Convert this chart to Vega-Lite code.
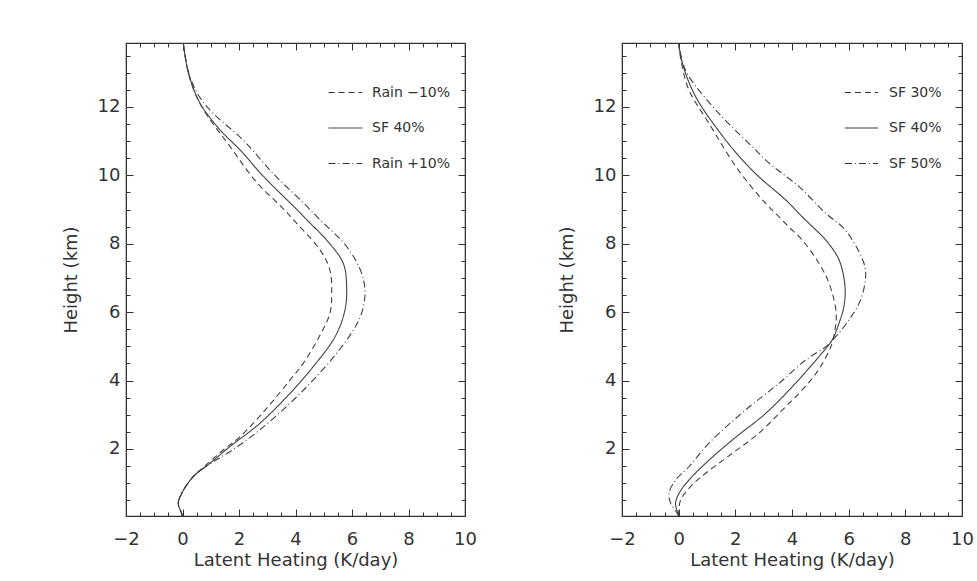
{
  "$schema": "https://vega.github.io/schema/vega-lite/v6.json",
  "background": "white",
  "padding": {"left": 61, "top": 40, "right": 0, "bottom": 0},
  "spacing": 79,
  "config": {
    "view": {"stroke": "#333", "strokeWidth": 1.2},
    "axis": {
      "grid": false,
      "domainColor": "#333",
      "tickColor": "#333",
      "labelColor": "#333",
      "titleColor": "#333",
      "labelFont": "DejaVu Sans",
      "titleFont": "DejaVu Sans",
      "labelFontSize": 18,
      "titleFontSize": 18,
      "titleFontWeight": "normal",
      "labelFlush": false,
      "labelOverlap": false
    },
    "legend": {
      "labelFont": "DejaVu Sans",
      "labelFontSize": 14,
      "labelColor": "#333"
    }
  },
  "datasets": {
    "left": [
      {"series": "SF 40%", "height": 0.04, "heating": 0},
      {"series": "SF 40%", "height": 0.12, "heating": -0.03},
      {"series": "SF 40%", "height": 0.41, "heating": -0.15},
      {"series": "SF 40%", "height": 0.7, "heating": -0.03},
      {"series": "SF 40%", "height": 1.19, "heating": 0.38},
      {"series": "SF 40%", "height": 1.58, "heating": 0.97},
      {"series": "SF 40%", "height": 2.07, "heating": 1.68},
      {"series": "SF 40%", "height": 2.75, "heating": 2.74},
      {"series": "SF 40%", "height": 3.63, "heating": 3.81},
      {"series": "SF 40%", "height": 4.41, "heating": 4.63},
      {"series": "SF 40%", "height": 5.28, "heating": 5.4},
      {"series": "SF 40%", "height": 6.06, "heating": 5.75},
      {"series": "SF 40%", "height": 6.75, "heating": 5.81},
      {"series": "SF 40%", "height": 7.43, "heating": 5.69},
      {"series": "SF 40%", "height": 8.11, "heating": 5.1},
      {"series": "SF 40%", "height": 8.7, "heating": 4.4},
      {"series": "SF 40%", "height": 9.0, "heating": 4.05},
      {"series": "SF 40%", "height": 9.94, "heating": 2.9},
      {"series": "SF 40%", "height": 10.74, "heating": 2.04},
      {"series": "SF 40%", "height": 11.33, "heating": 1.33},
      {"series": "SF 40%", "height": 12.11, "heating": 0.62},
      {"series": "SF 40%", "height": 12.99, "heating": 0.21},
      {"series": "SF 40%", "height": 13.86, "heating": 0.03},

      {"series": "Rain −10%", "height": 0.04, "heating": 0},
      {"series": "Rain −10%", "height": 0.12, "heating": -0.03},
      {"series": "Rain −10%", "height": 0.41, "heating": -0.15},
      {"series": "Rain −10%", "height": 0.7, "heating": -0.03},
      {"series": "Rain −10%", "height": 1.19, "heating": 0.38},
      {"series": "Rain −10%", "height": 1.63, "heating": 0.97},
      {"series": "Rain −10%", "height": 1.97, "heating": 1.44},
      {"series": "Rain −10%", "height": 2.36, "heating": 2.04},
      {"series": "Rain −10%", "height": 3.19, "heating": 2.98},
      {"series": "Rain −10%", "height": 4.02, "heating": 3.81},
      {"series": "Rain −10%", "height": 4.51, "heating": 4.28},
      {"series": "Rain −10%", "height": 5.33, "heating": 4.87},
      {"series": "Rain −10%", "height": 5.97, "heating": 5.22},
      {"series": "Rain −10%", "height": 6.55, "heating": 5.28},
      {"series": "Rain −10%", "height": 7.23, "heating": 5.22},
      {"series": "Rain −10%", "height": 7.82, "heating": 4.87},
      {"series": "Rain −10%", "height": 8.6, "heating": 4.04},
      {"series": "Rain −10%", "height": 9.08, "heating": 3.5},
      {"series": "Rain −10%", "height": 9.8, "heating": 2.62},
      {"series": "Rain −10%", "height": 10.94, "heating": 1.6},
      {"series": "Rain −10%", "height": 11.72, "heating": 0.9},
      {"series": "Rain −10%", "height": 12.3, "heating": 0.5},
      {"series": "Rain −10%", "height": 12.99, "heating": 0.21},
      {"series": "Rain −10%", "height": 13.86, "heating": 0.03},

      {"series": "Rain +10%", "height": 0.04, "heating": 0},
      {"series": "Rain +10%", "height": 0.12, "heating": -0.03},
      {"series": "Rain +10%", "height": 0.41, "heating": -0.15},
      {"series": "Rain +10%", "height": 0.7, "heating": -0.03},
      {"series": "Rain +10%", "height": 1.19, "heating": 0.38},
      {"series": "Rain +10%", "height": 1.63, "heating": 1.09},
      {"series": "Rain +10%", "height": 1.92, "heating": 1.68},
      {"series": "Rain +10%", "height": 2.56, "heating": 2.74},
      {"series": "Rain +10%", "height": 3.34, "heating": 3.81},
      {"series": "Rain +10%", "height": 4.02, "heating": 4.63},
      {"series": "Rain +10%", "height": 4.8, "heating": 5.46},
      {"series": "Rain +10%", "height": 5.48, "heating": 6.05},
      {"series": "Rain +10%", "height": 5.97, "heating": 6.34},
      {"series": "Rain +10%", "height": 6.55, "heating": 6.46},
      {"series": "Rain +10%", "height": 7.14, "heating": 6.34},
      {"series": "Rain +10%", "height": 7.92, "heating": 5.81},
      {"series": "Rain +10%", "height": 8.7, "heating": 4.87},
      {"series": "Rain +10%", "height": 9.18, "heating": 4.3},
      {"series": "Rain +10%", "height": 10.06, "heating": 3.2},
      {"series": "Rain +10%", "height": 11.03, "heating": 2.15},
      {"series": "Rain +10%", "height": 11.81, "heating": 1.09},
      {"series": "Rain +10%", "height": 12.3, "heating": 0.6},
      {"series": "Rain +10%", "height": 12.99, "heating": 0.22},
      {"series": "Rain +10%", "height": 13.86, "heating": 0.03}
    ],
    "right": [
      {"series": "SF 40%", "height": 0.04, "heating": 0},
      {"series": "SF 40%", "height": 0.2, "heating": -0.06},
      {"series": "SF 40%", "height": 0.41, "heating": -0.11},
      {"series": "SF 40%", "height": 0.7, "heating": 0.01},
      {"series": "SF 40%", "height": 1.09, "heating": 0.36},
      {"series": "SF 40%", "height": 1.58, "heating": 0.95},
      {"series": "SF 40%", "height": 2.26, "heating": 1.89},
      {"series": "SF 40%", "height": 3.04, "heating": 3.07},
      {"series": "SF 40%", "height": 3.82, "heating": 4.01},
      {"series": "SF 40%", "height": 4.7, "heating": 4.95},
      {"series": "SF 40%", "height": 5.19, "heating": 5.42},
      {"series": "SF 40%", "height": 5.68, "heating": 5.66},
      {"series": "SF 40%", "height": 6.16, "heating": 5.83},
      {"series": "SF 40%", "height": 6.75, "heating": 5.87},
      {"series": "SF 40%", "height": 7.53, "heating": 5.66},
      {"series": "SF 40%", "height": 8.11, "heating": 5.19},
      {"series": "SF 40%", "height": 8.5, "heating": 4.72},
      {"series": "SF 40%", "height": 8.79, "heating": 4.36},
      {"series": "SF 40%", "height": 9.28, "heating": 3.78},
      {"series": "SF 40%", "height": 9.96, "heating": 2.83},
      {"series": "SF 40%", "height": 10.45, "heating": 2.25},
      {"series": "SF 40%", "height": 11.03, "heating": 1.66},
      {"series": "SF 40%", "height": 12.3, "heating": 0.6},
      {"series": "SF 40%", "height": 13.28, "heating": 0.13},
      {"series": "SF 40%", "height": 13.86, "heating": 0},

      {"series": "SF 30%", "height": 0.04, "heating": 0},
      {"series": "SF 30%", "height": 0.12, "heating": 0},
      {"series": "SF 30%", "height": 0.51, "heating": 0.07},
      {"series": "SF 30%", "height": 0.9, "heating": 0.42},
      {"series": "SF 30%", "height": 1.29, "heating": 0.95},
      {"series": "SF 30%", "height": 1.87, "heating": 1.89},
      {"series": "SF 30%", "height": 2.46, "heating": 2.83},
      {"series": "SF 30%", "height": 3.24, "heating": 3.78},
      {"series": "SF 30%", "height": 3.63, "heating": 4.25},
      {"series": "SF 30%", "height": 4.07, "heating": 4.72},
      {"series": "SF 30%", "height": 4.41, "heating": 5.01},
      {"series": "SF 30%", "height": 4.99, "heating": 5.37},
      {"series": "SF 30%", "height": 5.4, "heating": 5.5},
      {"series": "SF 30%", "height": 5.97, "heating": 5.56},
      {"series": "SF 30%", "height": 6.84, "heating": 5.31},
      {"series": "SF 30%", "height": 7.43, "heating": 4.95},
      {"series": "SF 30%", "height": 8.11, "heating": 4.36},
      {"series": "SF 30%", "height": 8.5, "heating": 3.88},
      {"series": "SF 30%", "height": 8.89, "heating": 3.42},
      {"series": "SF 30%", "height": 9.18, "heating": 3.07},
      {"series": "SF 30%", "height": 10.16, "heating": 2.1},
      {"series": "SF 30%", "height": 11.52, "heating": 1.07},
      {"series": "SF 30%", "height": 12.5, "heating": 0.36},
      {"series": "SF 30%", "height": 13.28, "heating": 0.1},
      {"series": "SF 30%", "height": 13.86, "heating": 0},

      {"series": "SF 50%", "height": 0.04, "heating": 0},
      {"series": "SF 50%", "height": 0.12, "heating": -0.05},
      {"series": "SF 50%", "height": 0.41, "heating": -0.28},
      {"series": "SF 50%", "height": 0.7, "heating": -0.34},
      {"series": "SF 50%", "height": 1.09, "heating": -0.11},
      {"series": "SF 50%", "height": 1.48, "heating": 0.36},
      {"series": "SF 50%", "height": 2.17, "heating": 1.07},
      {"series": "SF 50%", "height": 3.14, "heating": 2.36},
      {"series": "SF 50%", "height": 3.92, "heating": 3.54},
      {"series": "SF 50%", "height": 4.6, "heating": 4.48},
      {"series": "SF 50%", "height": 4.99, "heating": 5.19},
      {"series": "SF 50%", "height": 5.28, "heating": 5.54},
      {"series": "SF 50%", "height": 5.77, "heating": 6.01},
      {"series": "SF 50%", "height": 6.36, "heating": 6.42},
      {"series": "SF 50%", "height": 7.04, "heating": 6.6},
      {"series": "SF 50%", "height": 7.43, "heating": 6.54},
      {"series": "SF 50%", "height": 8.11, "heating": 6.13},
      {"series": "SF 50%", "height": 8.5, "heating": 5.77},
      {"series": "SF 50%", "height": 8.89, "heating": 5.19},
      {"series": "SF 50%", "height": 9.67, "heating": 4.25},
      {"series": "SF 50%", "height": 10.35, "heating": 3.2},
      {"series": "SF 50%", "height": 10.74, "heating": 2.72},
      {"series": "SF 50%", "height": 11.81, "heating": 1.42},
      {"series": "SF 50%", "height": 12.89, "heating": 0.36},
      {"series": "SF 50%", "height": 13.28, "heating": 0.15},
      {"series": "SF 50%", "height": 13.86, "heating": 0}
    ]
  },
  "resolve": {
    "scale": {"strokeDash": "independent"},
    "legend": {"strokeDash": "independent"}
  },
  "hconcat": [
    {
      "width": 339,
      "height": 473,
      "data": {"name": "left"},
      "layer": [
        {
          "mark": {"type": "line", "color": "#404040", "strokeWidth": 1.1, "interpolate": "catmull-rom"},
          "encoding": {
            "x": {"field": "heating", "type": "quantitative",
              "scale": {"domain": [-2, 10], "nice": false, "zero": false},
              "axis": {"orient": "bottom", "values": [-2, 0, 2, 4, 6, 8, 10], "tickSize": -7, "labelPadding": 21,
                "title": "Latent Heating (K/day)", "titlePadding": 3}},
            "y": {"field": "height", "type": "quantitative",
              "scale": {"domain": [0.04, 13.87], "nice": false, "zero": false},
              "axis": {"orient": "left", "values": [2, 4, 6, 8, 10, 12], "tickSize": -7, "labelPadding": 13,
                "title": "Height (km)", "titlePadding": 17}},
            "order": {"field": "height", "type": "quantitative"},
            "strokeDash": {"field": "series", "type": "nominal",
              "scale": {"domain": ["Rain −10%", "SF 40%", "Rain +10%"], "range": [[6, 4], [1, 0], [7, 3, 1, 3]]},
              "legend": {"title": null, "orient": "none", "legendX": 202, "legendY": 32, "symbolType": "stroke",
                "symbolSize": 1150, "symbolStrokeWidth": 1, "symbolStrokeColor": "#333", "labelOffset": 9, "rowPadding": 10.5}}
          }
        },
        {
          "mark": {"type": "point", "opacity": 0},
          "encoding": {
            "x": {"field": "heating", "type": "quantitative", "scale": {"domain": [-2, 10], "nice": false, "zero": false},
              "axis": {"orient": "bottom", "values": [-1.5, -1, -0.5, 0.5, 1, 1.5, 2.5, 3, 3.5, 4.5, 5, 5.5, 6.5, 7, 7.5, 8.5, 9, 9.5], "tickSize": -4, "labels": false, "domain": false, "title": null}},
            "y": {"field": "height", "type": "quantitative", "scale": {"domain": [0.04, 13.87], "nice": false, "zero": false},
              "axis": {"orient": "left", "values": [0.5, 1, 1.5, 2.5, 3, 3.5, 4.5, 5, 5.5, 6.5, 7, 7.5, 8.5, 9, 9.5, 10.5, 11, 11.5, 12.5, 13, 13.5], "tickSize": -4, "labels": false, "domain": false, "title": null}}
          }
        },
        {
          "mark": {"type": "point", "opacity": 0},
          "encoding": {
            "x": {"field": "heating", "type": "quantitative", "scale": {"domain": [-2, 10], "nice": false, "zero": false},
              "axis": {"orient": "top", "values": [-2, 0, 2, 4, 6, 8, 10], "tickSize": -7, "labels": false, "title": null}},
            "y": {"field": "height", "type": "quantitative", "scale": {"domain": [0.04, 13.87], "nice": false, "zero": false},
              "axis": {"orient": "right", "values": [2, 4, 6, 8, 10, 12], "tickSize": -7, "labels": false, "title": null}}
          }
        },
        {
          "mark": {"type": "point", "opacity": 0},
          "encoding": {
            "x": {"field": "heating", "type": "quantitative", "scale": {"domain": [-2, 10], "nice": false, "zero": false},
              "axis": {"orient": "top", "values": [-1.5, -1, -0.5, 0.5, 1, 1.5, 2.5, 3, 3.5, 4.5, 5, 5.5, 6.5, 7, 7.5, 8.5, 9, 9.5], "tickSize": -4, "labels": false, "domain": false, "title": null}},
            "y": {"field": "height", "type": "quantitative", "scale": {"domain": [0.04, 13.87], "nice": false, "zero": false},
              "axis": {"orient": "right", "values": [0.5, 1, 1.5, 2.5, 3, 3.5, 4.5, 5, 5.5, 6.5, 7, 7.5, 8.5, 9, 9.5, 10.5, 11, 11.5, 12.5, 13, 13.5], "tickSize": -4, "labels": false, "domain": false, "title": null}}
          }
        }
      ],
      "resolve": {"axis": {"x": "independent", "y": "independent"}}
    },
    {
      "width": 340,
      "height": 473,
      "data": {"name": "right"},
      "layer": [
        {
          "mark": {"type": "line", "color": "#404040", "strokeWidth": 1.1, "interpolate": "catmull-rom"},
          "encoding": {
            "x": {"field": "heating", "type": "quantitative",
              "scale": {"domain": [-2, 10], "nice": false, "zero": false},
              "axis": {"orient": "bottom", "values": [-2, 0, 2, 4, 6, 8, 10], "tickSize": -7, "labelPadding": 21,
                "title": "Latent Heating (K/day)", "titlePadding": 3}},
            "y": {"field": "height", "type": "quantitative",
              "scale": {"domain": [0.04, 13.87], "nice": false, "zero": false},
              "axis": {"orient": "left", "values": [2, 4, 6, 8, 10, 12], "tickSize": -7, "labelPadding": 13,
                "title": "Height (km)", "titlePadding": 17}},
            "order": {"field": "height", "type": "quantitative"},
            "strokeDash": {"field": "series", "type": "nominal",
              "scale": {"domain": ["SF 30%", "SF 40%", "SF 50%"], "range": [[6, 4], [1, 0], [7, 3, 1, 3]]},
              "legend": {"title": null, "orient": "none", "legendX": 222, "legendY": 32, "symbolType": "stroke",
                "symbolSize": 1100, "symbolStrokeWidth": 1, "symbolStrokeColor": "#333", "labelOffset": 10, "rowPadding": 10.5}}
          }
        },
        {
          "mark": {"type": "point", "opacity": 0},
          "encoding": {
            "x": {"field": "heating", "type": "quantitative", "scale": {"domain": [-2, 10], "nice": false, "zero": false},
              "axis": {"orient": "bottom", "values": [-1.5, -1, -0.5, 0.5, 1, 1.5, 2.5, 3, 3.5, 4.5, 5, 5.5, 6.5, 7, 7.5, 8.5, 9, 9.5], "tickSize": -4, "labels": false, "domain": false, "title": null}},
            "y": {"field": "height", "type": "quantitative", "scale": {"domain": [0.04, 13.87], "nice": false, "zero": false},
              "axis": {"orient": "left", "values": [0.5, 1, 1.5, 2.5, 3, 3.5, 4.5, 5, 5.5, 6.5, 7, 7.5, 8.5, 9, 9.5, 10.5, 11, 11.5, 12.5, 13, 13.5], "tickSize": -4, "labels": false, "domain": false, "title": null}}
          }
        },
        {
          "mark": {"type": "point", "opacity": 0},
          "encoding": {
            "x": {"field": "heating", "type": "quantitative", "scale": {"domain": [-2, 10], "nice": false, "zero": false},
              "axis": {"orient": "top", "values": [-2, 0, 2, 4, 6, 8, 10], "tickSize": -7, "labels": false, "title": null}},
            "y": {"field": "height", "type": "quantitative", "scale": {"domain": [0.04, 13.87], "nice": false, "zero": false},
              "axis": {"orient": "right", "values": [2, 4, 6, 8, 10, 12], "tickSize": -7, "labels": false, "title": null}}
          }
        },
        {
          "mark": {"type": "point", "opacity": 0},
          "encoding": {
            "x": {"field": "heating", "type": "quantitative", "scale": {"domain": [-2, 10], "nice": false, "zero": false},
              "axis": {"orient": "top", "values": [-1.5, -1, -0.5, 0.5, 1, 1.5, 2.5, 3, 3.5, 4.5, 5, 5.5, 6.5, 7, 7.5, 8.5, 9, 9.5], "tickSize": -4, "labels": false, "domain": false, "title": null}},
            "y": {"field": "height", "type": "quantitative", "scale": {"domain": [0.04, 13.87], "nice": false, "zero": false},
              "axis": {"orient": "right", "values": [0.5, 1, 1.5, 2.5, 3, 3.5, 4.5, 5, 5.5, 6.5, 7, 7.5, 8.5, 9, 9.5, 10.5, 11, 11.5, 12.5, 13, 13.5], "tickSize": -4, "labels": false, "domain": false, "title": null}}
          }
        }
      ],
      "resolve": {"axis": {"x": "independent", "y": "independent"}}
    }
  ]
}
